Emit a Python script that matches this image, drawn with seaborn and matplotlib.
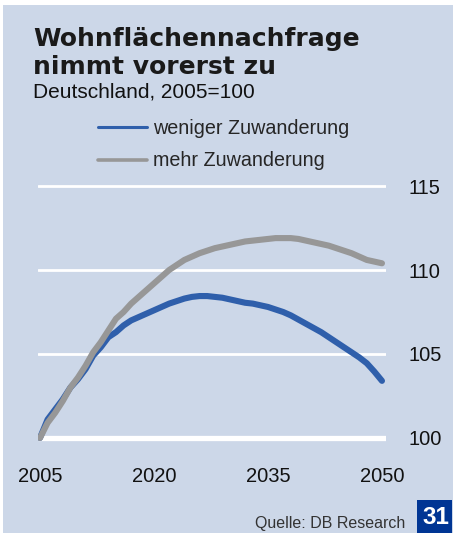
import numpy as np
import pandas as pd
import matplotlib
matplotlib.use("Agg")
import matplotlib.pyplot as plt
from matplotlib.patches import Rectangle
from matplotlib.lines import Line2D
import seaborn as sns

# data (index, 2005 = 100)
years = list(range(2005, 2051))
weniger = [100.0, 101.1, 101.7, 102.3, 103.0, 103.5, 104.1, 104.9, 105.4, 106.0,
           106.3, 106.7, 107.0, 107.2, 107.4, 107.6, 107.8, 108.0, 108.15, 108.3,
           108.4, 108.45, 108.45, 108.4, 108.35, 108.25, 108.15, 108.05, 108.0, 107.9,
           107.8, 107.65, 107.5, 107.3, 107.05, 106.8, 106.55, 106.3, 106.0, 105.7,
           105.4, 105.1, 104.8, 104.45, 103.95, 103.4]
mehr = [100.0, 100.9, 101.5, 102.2, 103.0, 103.6, 104.3, 105.1, 105.7, 106.4,
        107.1, 107.5, 108.0, 108.4, 108.8, 109.2, 109.6, 110.0, 110.3, 110.6,
        110.8, 111.0, 111.15, 111.3, 111.4, 111.5, 111.6, 111.7, 111.75, 111.8,
        111.85, 111.9, 111.9, 111.9, 111.85, 111.75, 111.65, 111.55, 111.45, 111.3,
        111.15, 111.0, 110.8, 110.6, 110.5, 110.4]
series_labels = ["weniger Zuwanderung", "mehr Zuwanderung"]
xticks = [2005, 2020, 2035, 2050]
yticks = [100, 105, 110, 115]

BG = "#ccd7e8"
BLUE = "#2f5fab"
GREY = "#979797"
DARKBLUE = "#003594"

sns.set_style("white")
plt.rcParams["font.family"] = ["Liberation Sans", "DejaVu Sans"]

W, H = 456, 538
fig = plt.figure(figsize=(W / 100, H / 100), dpi=100, facecolor="white")
fig.patches.append(Rectangle((3 / W, 5 / H), 450 / W, 528 / H, transform=fig.transFigure,
                             facecolor=BG, edgecolor="none", zorder=-5))

# axes: x 2004.74..2050.53 on px 38..386, y 99.7..115.3 on px 443..181
ax = fig.add_axes([38 / W, (H - 443) / H, 348 / W, 262 / H])
ax.set_facecolor("none")
ax.set_zorder(2)

ax.axhline(100, color="white", lw=3.8, zorder=1)
sns.lineplot(x=years, y=weniger, color=BLUE, lw=4.4, ax=ax, zorder=3,
             solid_capstyle="round")
sns.lineplot(x=years, y=mehr, color=GREY, lw=4.4, ax=ax, zorder=4,
             solid_capstyle="round")

ax.set_xlim(2004.74, 2050.53)
ax.set_ylim(99.7, 115.3)
ax.set_xticks(xticks)
ax.set_yticks(yticks)
ax.grid(axis="y", color="white", lw=2)
ax.set_axisbelow(True)
ax.yaxis.tick_right()
ax.tick_params(axis="y", length=0, pad=16, labelsize=14.5, labelcolor="#111111")
ax.tick_params(axis="x", length=0, pad=17, labelsize=14.5, labelcolor="#111111")
for s in ax.spines.values():
    s.set_visible(False)

handles = [Line2D([], [], color=BLUE, lw=2.2), Line2D([], [], color=GREY, lw=2.6)]
fig.legend(handles, series_labels, loc="upper left", bbox_to_anchor=(98 / W, (H - 119) / H),
           frameon=False, fontsize=14.2, handlelength=2.5, handletextpad=0.3,
           labelspacing=0.68, borderpad=0, borderaxespad=0)

fig.text(33 / W, (H - 46) / H, "Wohnflächennachfrage", family="DejaVu Sans",
         weight="bold", fontsize=18, color="#1a1a1a", va="baseline")
fig.text(33 / W, (H - 74) / H, "nimmt vorerst zu", family="DejaVu Sans",
         weight="bold", fontsize=18, color="#1a1a1a", va="baseline")
fig.text(33 / W, (H - 97) / H, "Deutschland, 2005=100", fontsize=15,
         color="#111111", va="baseline")

fig.text(405 / W, (H - 528) / H, "Quelle: DB Research", fontsize=11.5,
         color="#333333", ha="right", va="baseline")
fig.patches.append(Rectangle((417 / W, 5 / H), 35 / W, 33 / H, transform=fig.transFigure,
                             facecolor=DARKBLUE, edgecolor="none", zorder=1))
fig.text(435.5 / W, (H - 517) / H, "31", fontsize=17.5, weight="bold",
         color="white", ha="center", va="center")

fig.savefig("out.png", dpi=100, facecolor="white")
